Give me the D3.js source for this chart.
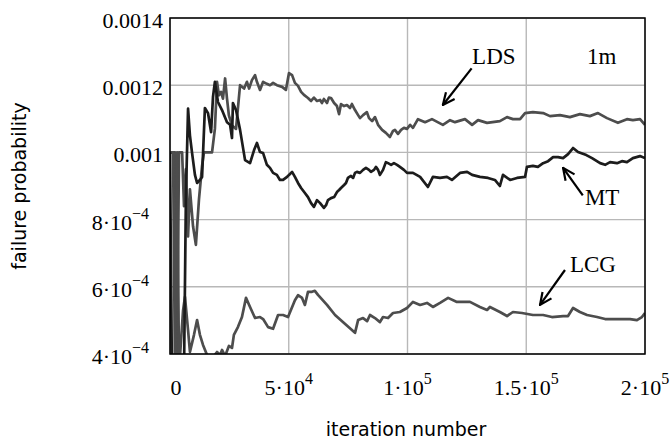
<!DOCTYPE html>
<html>
<head>
<meta charset="utf-8">
<script src="https://cdn.jsdelivr.net/npm/d3@7"></script>
<style>
  body { margin: 0; background: #fff; }
  svg { display: block; }
</style>
</head>
<body>
<svg id="chart" width="670" height="446"></svg>
<script>
// x ticks (iteration number) and y ticks (failure probability)
const iterTicks = [0, 50000, 100000, 150000, 200000];
const iterTickLabels = [["0", ""], ["5·10", "4"], ["1·10", "5"], ["1.5·10", "5"], ["2·10", "5"]];
const probTicks = [4e-4, 6e-4, 8e-4, 10e-4, 12e-4, 14e-4];
const probTickLabels = [["4·10", "−4"], ["6·10", "−4"], ["8·10", "−4"], ["0.001", ""], ["0.0012", ""], ["0.0014", ""]];

// series: [iteration, failure probability]
const ldsSeries = [
  [0, 10.0e-4], [2100, 10.0e-4], [2900, 3.5e-4], [3800, 10.0e-4], [5100, 10.0e-4], [5900, 8.4e-4],
  [6700, 9.5e-4], [7600, 7.5e-4], [8400, 8.9e-4], [9700, 7.8e-4], [10900, 7.25e-4], [12200, 8.6e-4],
  [13500, 9.6e-4], [14300, 10.0e-4], [17700, 10.0e-4], [18900, 10.7e-4], [19800, 12.1e-4],
  [20600, 11.7e-4], [21500, 11.8e-4], [22300, 11.6e-4], [23200, 12.2e-4], [24000, 11.6e-4],
  [24800, 11.1e-4], [26100, 10.8e-4], [27800, 10.7e-4], [29500, 12.0e-4], [31200, 11.9e-4],
  [32400, 12.1e-4], [33300, 11.9e-4], [34500, 12.15e-4], [35800, 12.3e-4], [36600, 12.1e-4],
  [37900, 11.86e-4], [39200, 12.1e-4], [40800, 12.04e-4], [42100, 12.0e-4], [43400, 12.07e-4],
  [45000, 12.0e-4], [47200, 11.95e-4], [48800, 11.86e-4], [50100, 12.36e-4], [51400, 12.3e-4],
  [52600, 12.07e-4], [53900, 11.98e-4], [55200, 11.8e-4], [56400, 11.71e-4], [58100, 11.62e-4],
  [59400, 11.53e-4], [60600, 11.63e-4], [61900, 11.53e-4], [63200, 11.56e-4], [64000, 11.47e-4],
  [64800, 11.59e-4], [66100, 11.47e-4], [66900, 11.63e-4], [67800, 11.62e-4], [69100, 11.47e-4],
  [70300, 11.38e-4], [71200, 11.14e-4], [72000, 11.44e-4], [73300, 11.38e-4], [74500, 11.41e-4],
  [75800, 11.32e-4], [76600, 11.44e-4], [77900, 11.26e-4], [79200, 11.11e-4], [80000, 11.02e-4],
  [81300, 11.11e-4], [82900, 11.2e-4], [83800, 11.02e-4], [85100, 10.93e-4], [86300, 11.05e-4],
  [87600, 10.82e-4], [89300, 10.67e-4], [90900, 10.58e-4], [92600, 10.46e-4], [93900, 10.64e-4],
  [94700, 10.67e-4], [96000, 10.55e-4], [97300, 10.67e-4], [98500, 10.73e-4], [99800, 10.7e-4],
  [101100, 10.82e-4], [102300, 10.73e-4], [104400, 10.99e-4], [107400, 10.9e-4], [110300, 10.99e-4],
  [114900, 10.82e-4], [117900, 10.96e-4], [120000, 10.9e-4], [124200, 10.99e-4], [127200, 10.82e-4],
  [129700, 10.96e-4], [133500, 10.88e-4], [138900, 10.93e-4], [141900, 11.05e-4], [144400, 10.99e-4],
  [147400, 10.99e-4], [149500, 11.17e-4], [152800, 11.2e-4], [157100, 11.17e-4], [160000, 11.08e-4],
  [164200, 11.11e-4], [168400, 11.05e-4], [172600, 11.14e-4], [176800, 11.08e-4], [180200, 11.17e-4],
  [184000, 11.02e-4], [188600, 10.88e-4], [192400, 10.99e-4], [194900, 10.96e-4], [197900, 10.99e-4],
  [200000, 10.82e-4]
];

const mtSeries = [
  [0, 10.0e-4], [800, 3.5e-4], [5900, 3.5e-4], [6700, 8.67e-4], [7600, 11.3e-4], [8400, 10.5e-4],
  [9300, 9.98e-4], [10500, 9.33e-4], [11400, 9.09e-4], [12600, 9.18e-4], [13500, 9.27e-4],
  [14700, 11.32e-4], [16000, 11.17e-4], [17300, 10.6e-4], [18100, 11.65e-4], [18900, 12.1e-4],
  [20200, 11.5e-4], [21900, 11.26e-4], [24000, 10.9e-4], [25300, 10.82e-4], [26100, 10.43e-4],
  [26500, 11.47e-4], [27800, 11.26e-4], [29500, 10.67e-4], [31600, 9.77e-4], [33700, 9.68e-4],
  [35400, 10.07e-4], [36600, 10.28e-4], [37900, 10.01e-4], [39200, 9.98e-4], [40800, 9.63e-4],
  [42100, 9.54e-4], [43400, 9.39e-4], [45000, 9.33e-4], [46300, 9.18e-4], [47600, 9.18e-4],
  [49300, 9.27e-4], [50100, 9.33e-4], [51400, 9.42e-4], [52600, 9.27e-4], [53900, 9.09e-4],
  [55200, 8.94e-4], [56800, 8.79e-4], [58100, 8.67e-4], [59400, 8.49e-4], [60600, 8.38e-4],
  [61900, 8.58e-4], [63200, 8.49e-4], [64800, 8.35e-4], [65700, 8.43e-4], [66500, 8.58e-4],
  [67800, 8.64e-4], [69100, 8.67e-4], [70300, 8.82e-4], [71200, 8.88e-4], [72000, 8.94e-4],
  [73300, 9.03e-4], [74100, 9.09e-4], [74900, 9.24e-4], [76200, 9.30e-4], [77100, 9.24e-4],
  [77900, 9.39e-4], [78700, 9.42e-4], [80000, 9.39e-4], [81300, 9.48e-4], [82500, 9.54e-4],
  [83800, 9.48e-4], [84600, 9.42e-4], [85900, 9.48e-4], [86700, 9.57e-4], [87600, 9.48e-4],
  [88400, 9.33e-4], [89700, 9.48e-4], [90900, 9.71e-4], [91800, 9.68e-4], [93100, 9.63e-4],
  [94300, 9.68e-4], [95600, 9.63e-4], [96800, 9.57e-4], [98500, 9.48e-4], [99800, 9.39e-4],
  [102300, 9.39e-4], [105300, 9.27e-4], [108600, 8.97e-4], [110700, 9.27e-4], [113700, 9.24e-4],
  [116600, 9.27e-4], [118700, 9.18e-4], [122100, 9.39e-4], [125100, 9.42e-4], [127200, 9.33e-4],
  [130500, 9.27e-4], [133900, 9.24e-4], [136800, 9.18e-4], [138900, 9.0e-4], [140200, 9.33e-4],
  [143200, 9.18e-4], [146100, 9.24e-4], [149500, 9.27e-4], [150300, 9.57e-4], [152800, 9.6e-4],
  [154900, 9.57e-4], [157100, 9.68e-4], [159200, 9.74e-4], [161300, 9.86e-4], [163400, 9.86e-4],
  [165500, 9.83e-4], [167600, 9.95e-4], [169700, 10.13e-4], [171800, 10.01e-4], [175300, 9.92e-4],
  [177700, 9.83e-4], [181100, 9.68e-4], [183200, 9.63e-4], [185300, 9.71e-4], [188200, 9.68e-4],
  [190300, 9.74e-4], [192400, 9.71e-4], [194900, 9.83e-4], [197900, 9.89e-4], [200000, 9.83e-4]
];

const lcgSeries = [
  [0, 10.0e-4], [1300, 10.0e-4], [2100, 3.5e-4], [3000, 10.0e-4], [3800, 3.5e-4], [5500, 5.3e-4],
  [6300, 5.7e-4], [7600, 4.71e-4], [8400, 4.06e-4], [10100, 4.57e-4], [11400, 5.01e-4],
  [12600, 4.57e-4], [13900, 4.27e-4], [15600, 3.97e-4], [18500, 3.94e-4], [19800, 4.06e-4],
  [21100, 3.97e-4], [21900, 4.12e-4], [23200, 3.94e-4], [24800, 4.24e-4], [26100, 4.18e-4],
  [26900, 4.57e-4], [28600, 4.8e-4], [30300, 5.1e-4], [32000, 5.67e-4], [33700, 5.4e-4],
  [35800, 5.07e-4], [37900, 5.1e-4], [39200, 5.04e-4], [41300, 4.8e-4], [43400, 4.75e-4],
  [45500, 5.16e-4], [47600, 5.16e-4], [49700, 5.1e-4], [52600, 5.6e-4], [53900, 5.75e-4],
  [55600, 5.67e-4], [56800, 5.46e-4], [58100, 5.85e-4], [59800, 5.85e-4], [61000, 5.88e-4],
  [62300, 5.76e-4], [66100, 5.46e-4], [69500, 5.16e-4], [72800, 4.95e-4], [77900, 4.63e-4],
  [79200, 5.01e-4], [81300, 5.07e-4], [83000, 4.98e-4], [84200, 5.16e-4], [86300, 5.07e-4],
  [88400, 4.95e-4], [89700, 5.1e-4], [91800, 5.07e-4], [93900, 5.22e-4], [96800, 5.25e-4],
  [99800, 5.37e-4], [102300, 5.55e-4], [105300, 5.46e-4], [108200, 5.52e-4], [110700, 5.4e-4],
  [113700, 5.52e-4], [117100, 5.67e-4], [120800, 5.55e-4], [126300, 5.55e-4], [130500, 5.4e-4],
  [133500, 5.31e-4], [134700, 5.4e-4], [138900, 5.25e-4], [141900, 5.13e-4], [144400, 5.25e-4],
  [148200, 5.22e-4], [152800, 5.16e-4], [157100, 5.16e-4], [160800, 5.1e-4], [165500, 5.13e-4],
  [167600, 5.13e-4], [169700, 5.37e-4], [172600, 5.25e-4], [175600, 5.16e-4], [179800, 5.1e-4],
  [183200, 5.04e-4], [188200, 5.04e-4], [193700, 5.04e-4], [196600, 5.01e-4], [198700, 5.1e-4],
  [200000, 5.22e-4]
];

const seriesList = [
  { name: "LDS", data: ldsSeries, color: "#4d4d4d" },
  { name: "LCG", data: lcgSeries, color: "#4d4d4d" },
  { name: "MT", data: mtSeries, color: "#1c1c1c" }
];

// annotations: label, label anchor and arrow from -> to, in data units
const notes = [
  { text: "LDS", at: [127200, 12.63e-4], from: [127000, 12.5e-4], to: [114900, 11.41e-4] },
  { text: "MT", at: [174700, 8.43e-4], from: [173800, 8.72e-4], to: [165500, 9.54e-4] },
  { text: "LCG", at: [168400, 6.44e-4], from: [166300, 6.5e-4], to: [155800, 5.46e-4] }
];

const plotLeft = 170, plotRight = 645, plotTop = 18, plotBottom = 354;
const serif = "'Liberation Serif', 'Times New Roman', serif";
const svg = d3.select("#chart");

const xScale = d3.scaleLinear().domain([0, 200000]).range([plotLeft, plotRight]);
const yScale = d3.scaleLinear().domain([4e-4, 14e-4]).range([plotBottom, plotTop]);

// grid
const grid = svg.append("g").attr("stroke", "#b8b8b8").attr("stroke-width", 1.4);
grid.selectAll(".vg").data(iterTicks).enter().append("line")
  .attr("x1", d => xScale(d)).attr("x2", d => xScale(d))
  .attr("y1", plotTop).attr("y2", plotBottom);
grid.selectAll(".hg").data(probTicks).enter().append("line")
  .attr("x1", plotLeft).attr("x2", plotRight)
  .attr("y1", d => yScale(d)).attr("y2", d => yScale(d));

// lines
svg.append("clipPath").attr("id", "plotclip").append("rect")
  .attr("x", plotLeft).attr("y", plotTop).attr("width", plotRight - plotLeft).attr("height", plotBottom - plotTop);

const line = d3.line().x(d => xScale(d[0])).y(d => yScale(d[1]));
svg.append("g").attr("clip-path", "url(#plotclip)")
  .selectAll("path").data(seriesList).enter().append("path")
  .attr("fill", "none")
  .attr("stroke", d => d.color)
  .attr("stroke-width", 2.7)
  .attr("stroke-linejoin", "round")
  .attr("d", d => line(d.data));

// frame
svg.append("rect")
  .attr("x", plotLeft).attr("y", plotTop).attr("width", plotRight - plotLeft).attr("height", plotBottom - plotTop)
  .attr("fill", "none").attr("stroke", "#000").attr("stroke-width", 1.5);

// y tick labels
probTickLabels.forEach((lab, i) => {
  const t = svg.append("text")
    .attr("x", lab[1] ? 149 : 163)
    .attr("y", yScale(probTicks[i]) + 10)
    .attr("text-anchor", "end")
    .attr("font-family", serif).attr("font-size", 22);
  t.append("tspan").text(lab[0]);
  if (lab[1]) t.append("tspan").attr("dy", -11).attr("font-size", 16).text(lab[1]);
});

// x tick labels
iterTickLabels.forEach((lab, i) => {
  const t = svg.append("text")
    .attr("x", xScale(iterTicks[i]) + (i === 0 ? 6 : 0))
    .attr("y", 395)
    .attr("text-anchor", "middle")
    .attr("font-family", serif).attr("font-size", 22);
  t.append("tspan").text(lab[0]);
  if (lab[1]) t.append("tspan").attr("dy", -11).attr("font-size", 16).text(lab[1]);
});

// axis titles
svg.append("text")
  .attr("x", 406).attr("y", 436)
  .attr("text-anchor", "middle")
  .attr("font-family", "'DejaVu Sans', sans-serif").attr("font-size", 19)
  .text("iteration number");
svg.append("text")
  .attr("transform", "translate(26,186) rotate(-90)")
  .attr("text-anchor", "middle")
  .attr("font-family", "'DejaVu Sans', sans-serif").attr("font-size", 19)
  .text("failure probability");

// annotations
svg.append("defs").append("marker")
  .attr("id", "head").attr("viewBox", "0 0 14 14")
  .attr("refX", 13).attr("refY", 7)
  .attr("markerWidth", 14).attr("markerHeight", 14)
  .attr("markerUnits", "userSpaceOnUse")
  .attr("orient", "auto")
  .append("path").attr("d", "M1,1.5 L13,7 L1,12.5")
  .attr("fill", "none").attr("stroke", "#000").attr("stroke-width", 2.2);

const ann = svg.append("g");
ann.selectAll("line").data(notes).enter().append("line")
  .attr("x1", d => xScale(d.from[0])).attr("y1", d => yScale(d.from[1]))
  .attr("x2", d => xScale(d.to[0])).attr("y2", d => yScale(d.to[1]))
  .attr("stroke", "#000").attr("stroke-width", 2.2)
  .attr("marker-end", "url(#head)");
ann.selectAll("text").data(notes).enter().append("text")
  .attr("x", d => xScale(d.at[0])).attr("y", d => yScale(d.at[1]))
  .attr("font-family", serif).attr("font-size", 23)
  .text(d => d.text);

svg.append("text")
  .attr("x", 587).attr("y", 64)
  .attr("font-family", serif).attr("font-size", 23)
  .text("1m");
</script>
</body>
</html>
